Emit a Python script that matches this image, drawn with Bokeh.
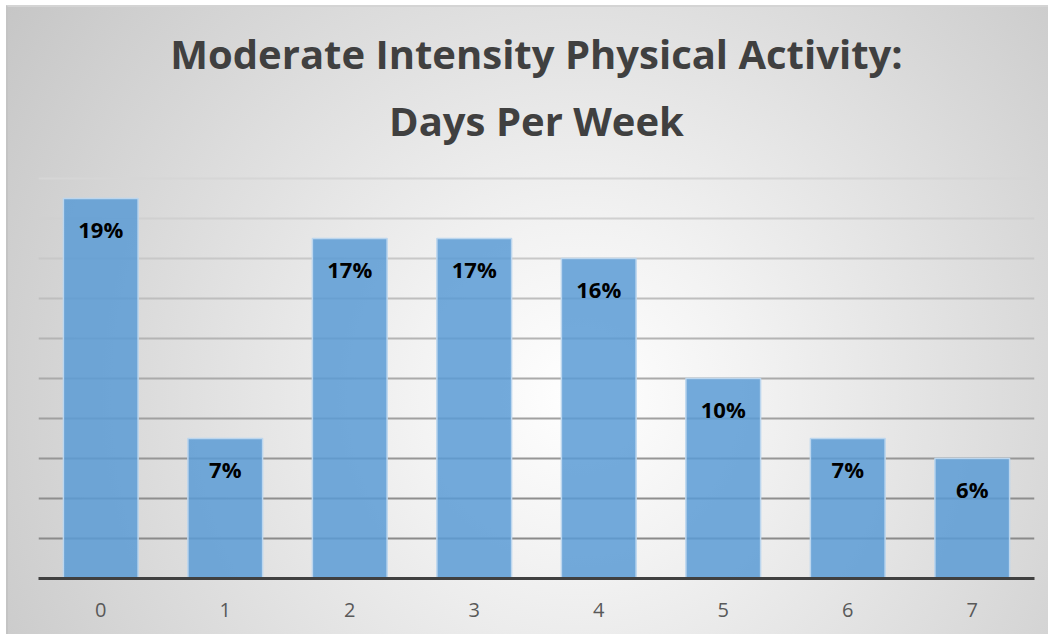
from bokeh.plotting import figure
from bokeh.models import ColumnDataSource, FixedTicker, Grid, Title
from bokeh.embed import file_html
from bokeh.resources import INLINE
from bokeh.core.properties import value

# ---- data ----
days = ["0", "1", "2", "3", "4", "5", "6", "7"]
percent = [19, 7, 17, 17, 16, 10, 7, 6]
labels = [f"{v}%" for v in percent]
grid_ticks = [2, 4, 6, 8, 10, 12, 14, 16, 18, 20]
title_line1 = "Moderate Intensity Physical Activity:"
title_line2 = "Days Per Week"

# gridline shades, bottom (darker) to top (lighter)
grid_colors = ["#8a8a8a", "#8e8e8e", "#969696", "#a0a0a0", "#aaaaaa",
               "#b4b4b4", "#bebebe", "#c8c8c8", "#d0d0d0", "#d6d6d6"]

FONT = "Open Sans"

src = ColumnDataSource(dict(day=days, pct=percent, label=labels))

p = figure(
    x_range=days, y_range=(0, 20.1),
    width=1042, height=629,
    output_backend="svg", toolbar_location=None,
    y_axis_location=None,
    min_border_left=30, min_border_right=16,
    min_border_top=169, min_border_bottom=58,
)
p.title = None
p.border_fill_color = None
p.background_fill_color = None
p.outline_line_color = None
p.styles = {
    "background-image": "radial-gradient(circle farthest-corner at 55% 62%, #ffffff 0%, #f2f2f2 25%, #c6c6c6 100%)",
    "border-top": "2px solid #d4d4d4",
    "border-left": "2px solid #c4c4c4",
    "margin-left": "6px",
    "margin-top": "5px",
}

p.xgrid.visible = False
p.ygrid.visible = False
for t, c in zip(grid_ticks, grid_colors):
    g = Grid(dimension=1, ticker=FixedTicker(ticks=[t]),
             grid_line_color=c, grid_line_width=2)
    p.add_layout(g)

p.vbar(x="day", top="pct", width=0.6, source=src,
       fill_color="#5b9bd5", fill_alpha=0.85,
       line_color="#bcd6ee", line_width=1.5)

p.text(x="day", y="pct", text="label", source=src,
       text_align="center", text_baseline="top", y_offset=15,
       text_font=value(FONT), text_font_size="22px",
       text_font_style="bold", text_color="#000000")

ax = p.xaxis[0]
ax.axis_line_color = "#404040"
ax.axis_line_width = 3
ax.major_tick_line_color = None
ax.minor_tick_line_color = None
ax.major_label_text_font = FONT
ax.major_label_text_font_size = "20px"
ax.major_label_text_color = "#595959"
ax.major_label_standoff = 18

t2 = Title(text=title_line2, align="center", text_font=FONT,
           text_font_size="40px", text_font_style="bold",
           text_color="#404040", standoff=58)
t1 = Title(text=title_line1, align="center", text_font=FONT,
           text_font_size="40px", text_font_style="bold",
           text_color="#404040", standoff=-38)
p.add_layout(t2, "above")
p.add_layout(t1, "above")

open("out.html", "w").write(file_html(p, INLINE))
